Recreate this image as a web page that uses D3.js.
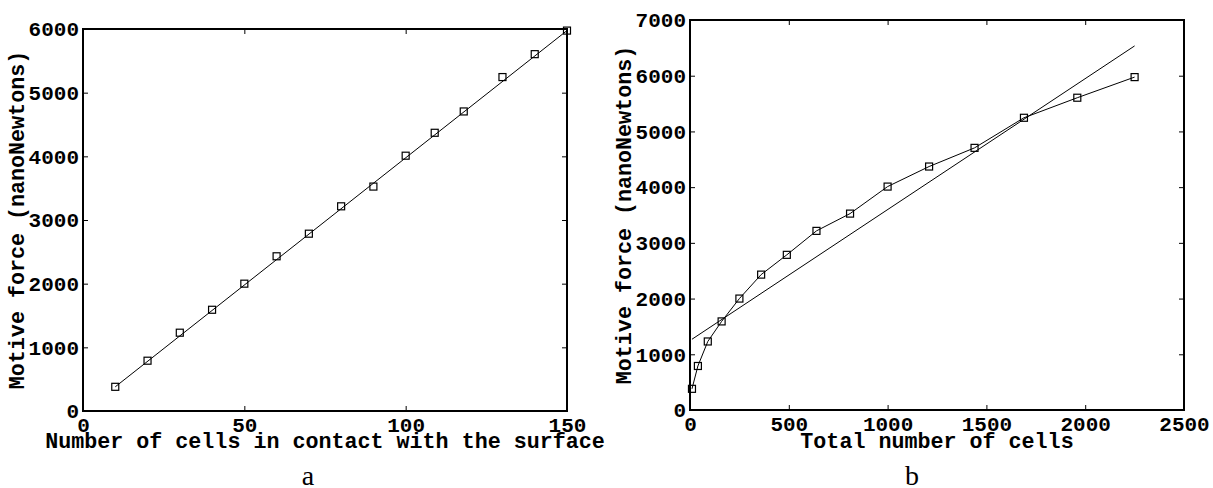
<!DOCTYPE html>
<html>
<head>
<meta charset="utf-8">
<script src="https://cdn.jsdelivr.net/npm/d3@7"></script>
<style>
  body { margin: 0; background: #fff; }
  svg { display: block; }
  .tick text { font-family: "Liberation Mono", monospace; font-weight: bold; font-size: 21px; fill: #000; }
  .title { font-family: "Liberation Mono", monospace; font-weight: bold; font-size: 21.7px; fill: #000; }
  .cap { font-family: "Liberation Serif", serif; font-size: 28px; fill: #000; }
</style>
</head>
<body>
<svg width="1213" height="488"></svg>
<script>
// cells touching the surface (panel a) and total cells (panel b)
var contactCells = [10, 20, 30, 40, 50, 60, 70, 80, 90, 100, 109, 118, 130, 140, 150];
var totalCells = [10, 40, 90, 160, 250, 360, 490, 640, 810, 1000, 1210, 1440, 1690, 1960, 2250];
var motiveForce = [380, 790, 1230, 1590, 2000, 2430, 2785, 3215, 3525, 4010, 4370, 4705, 5245, 5605, 5975];

// straight fits
var fitContact = [10, 150];
var fitForceA = [380, 5975];
var fitTotal = [10, 2250];
var fitForceB = [1270, 6535];

var xTicksA = [0, 50, 100, 150];
var yTicksA = [0, 1000, 2000, 3000, 4000, 5000, 6000];
var xTicksB = [0, 500, 1000, 1500, 2000, 2500];
var yTicksB = [0, 1000, 2000, 3000, 4000, 5000, 6000, 7000];

var svg = d3.select("svg");

function panel(opt) {
    var x = d3.scaleLinear().domain([opt.xTicks[0], opt.xTicks[opt.xTicks.length - 1]]).range([opt.left, opt.right]);
    var y = d3.scaleLinear().domain([opt.yTicks[0], opt.yTicks[opt.yTicks.length - 1]]).range([opt.bottom, opt.top]);
    var g = svg.append("g");

    // inward ticks on all four sides
    var bottom = g.append("g").attr("transform", "translate(0," + opt.bottom + ")")
        .call(d3.axisBottom(x).tickValues(opt.xTicks).tickSize(-5).tickPadding(6).tickFormat(d3.format("d")));
    var left = g.append("g").attr("transform", "translate(" + opt.left + ",0)")
        .call(d3.axisLeft(y).tickValues(opt.yTicks).tickSize(-5).tickPadding(4).tickFormat(d3.format("d")));
    var top = g.append("g").attr("transform", "translate(0," + opt.top + ")")
        .call(d3.axisTop(x).tickValues(opt.xTicks).tickSize(-5).tickFormat(""));
    var right = g.append("g").attr("transform", "translate(" + opt.right + ",0)")
        .call(d3.axisRight(y).tickValues(opt.yTicks).tickSize(-5).tickFormat(""));
    [bottom, left, top, right].forEach(function(a) {
        a.select(".domain").remove();
        a.selectAll("line").attr("stroke", "#000").attr("stroke-width", 1);
    });

    g.append("rect")
        .attr("x", opt.left).attr("y", opt.top)
        .attr("width", opt.right - opt.left).attr("height", opt.bottom - opt.top)
        .attr("fill", "none").attr("stroke", "#000").attr("stroke-width", 2);

    var line = d3.line().x(function(d) { return x(d[0]); }).y(function(d) { return y(d[1]); });

    g.append("path")
        .datum(d3.zip(opt.fitX, opt.fitY))
        .attr("d", line).attr("fill", "none").attr("stroke", "#000").attr("stroke-width", 1);

    var pts = d3.zip(opt.xs, opt.ys);
    if (opt.joinPoints) {
        g.append("path")
            .datum(pts)
            .attr("d", line).attr("fill", "none").attr("stroke", "#000").attr("stroke-width", 1);
    }

    g.selectAll(".mark")
        .data(pts)
        .enter()
        .append("rect")
            .attr("x", function(d) { return x(d[0]) - 3.5; })
            .attr("y", function(d) { return y(d[1]) - 3.5; })
            .attr("width", 7).attr("height", 7)
            .attr("fill", "none").attr("stroke", "#000").attr("stroke-width", 1.2);

    g.append("text").attr("class", "title")
        .attr("x", (opt.left + opt.right) / 2).attr("y", 447.5)
        .attr("text-anchor", "middle").text(opt.xTitle);

    g.append("text").attr("class", "title")
        .attr("transform", "translate(" + (opt.left - 59) + "," + ((opt.top + opt.bottom) / 2) + ") rotate(-90)")
        .attr("text-anchor", "middle").text("Motive force (nanoNewtons)");

    g.append("text").attr("class", "cap")
        .attr("x", opt.capX).attr("y", 485)
        .attr("text-anchor", "middle").text(opt.cap);
}

panel({
    left: 83, right: 567, top: 29, bottom: 411,
    xTicks: xTicksA, yTicks: yTicksA,
    xs: contactCells, ys: motiveForce,
    fitX: fitContact, fitY: fitForceA, joinPoints: false,
    xTitle: "Number of cells in contact with the surface",
    cap: "a", capX: 308
});

panel({
    left: 690, right: 1184, top: 20, bottom: 410,
    xTicks: xTicksB, yTicks: yTicksB,
    xs: totalCells, ys: motiveForce,
    fitX: fitTotal, fitY: fitForceB, joinPoints: true,
    xTitle: "Total number of cells",
    cap: "b", capX: 912
});
</script>
</body>
</html>
